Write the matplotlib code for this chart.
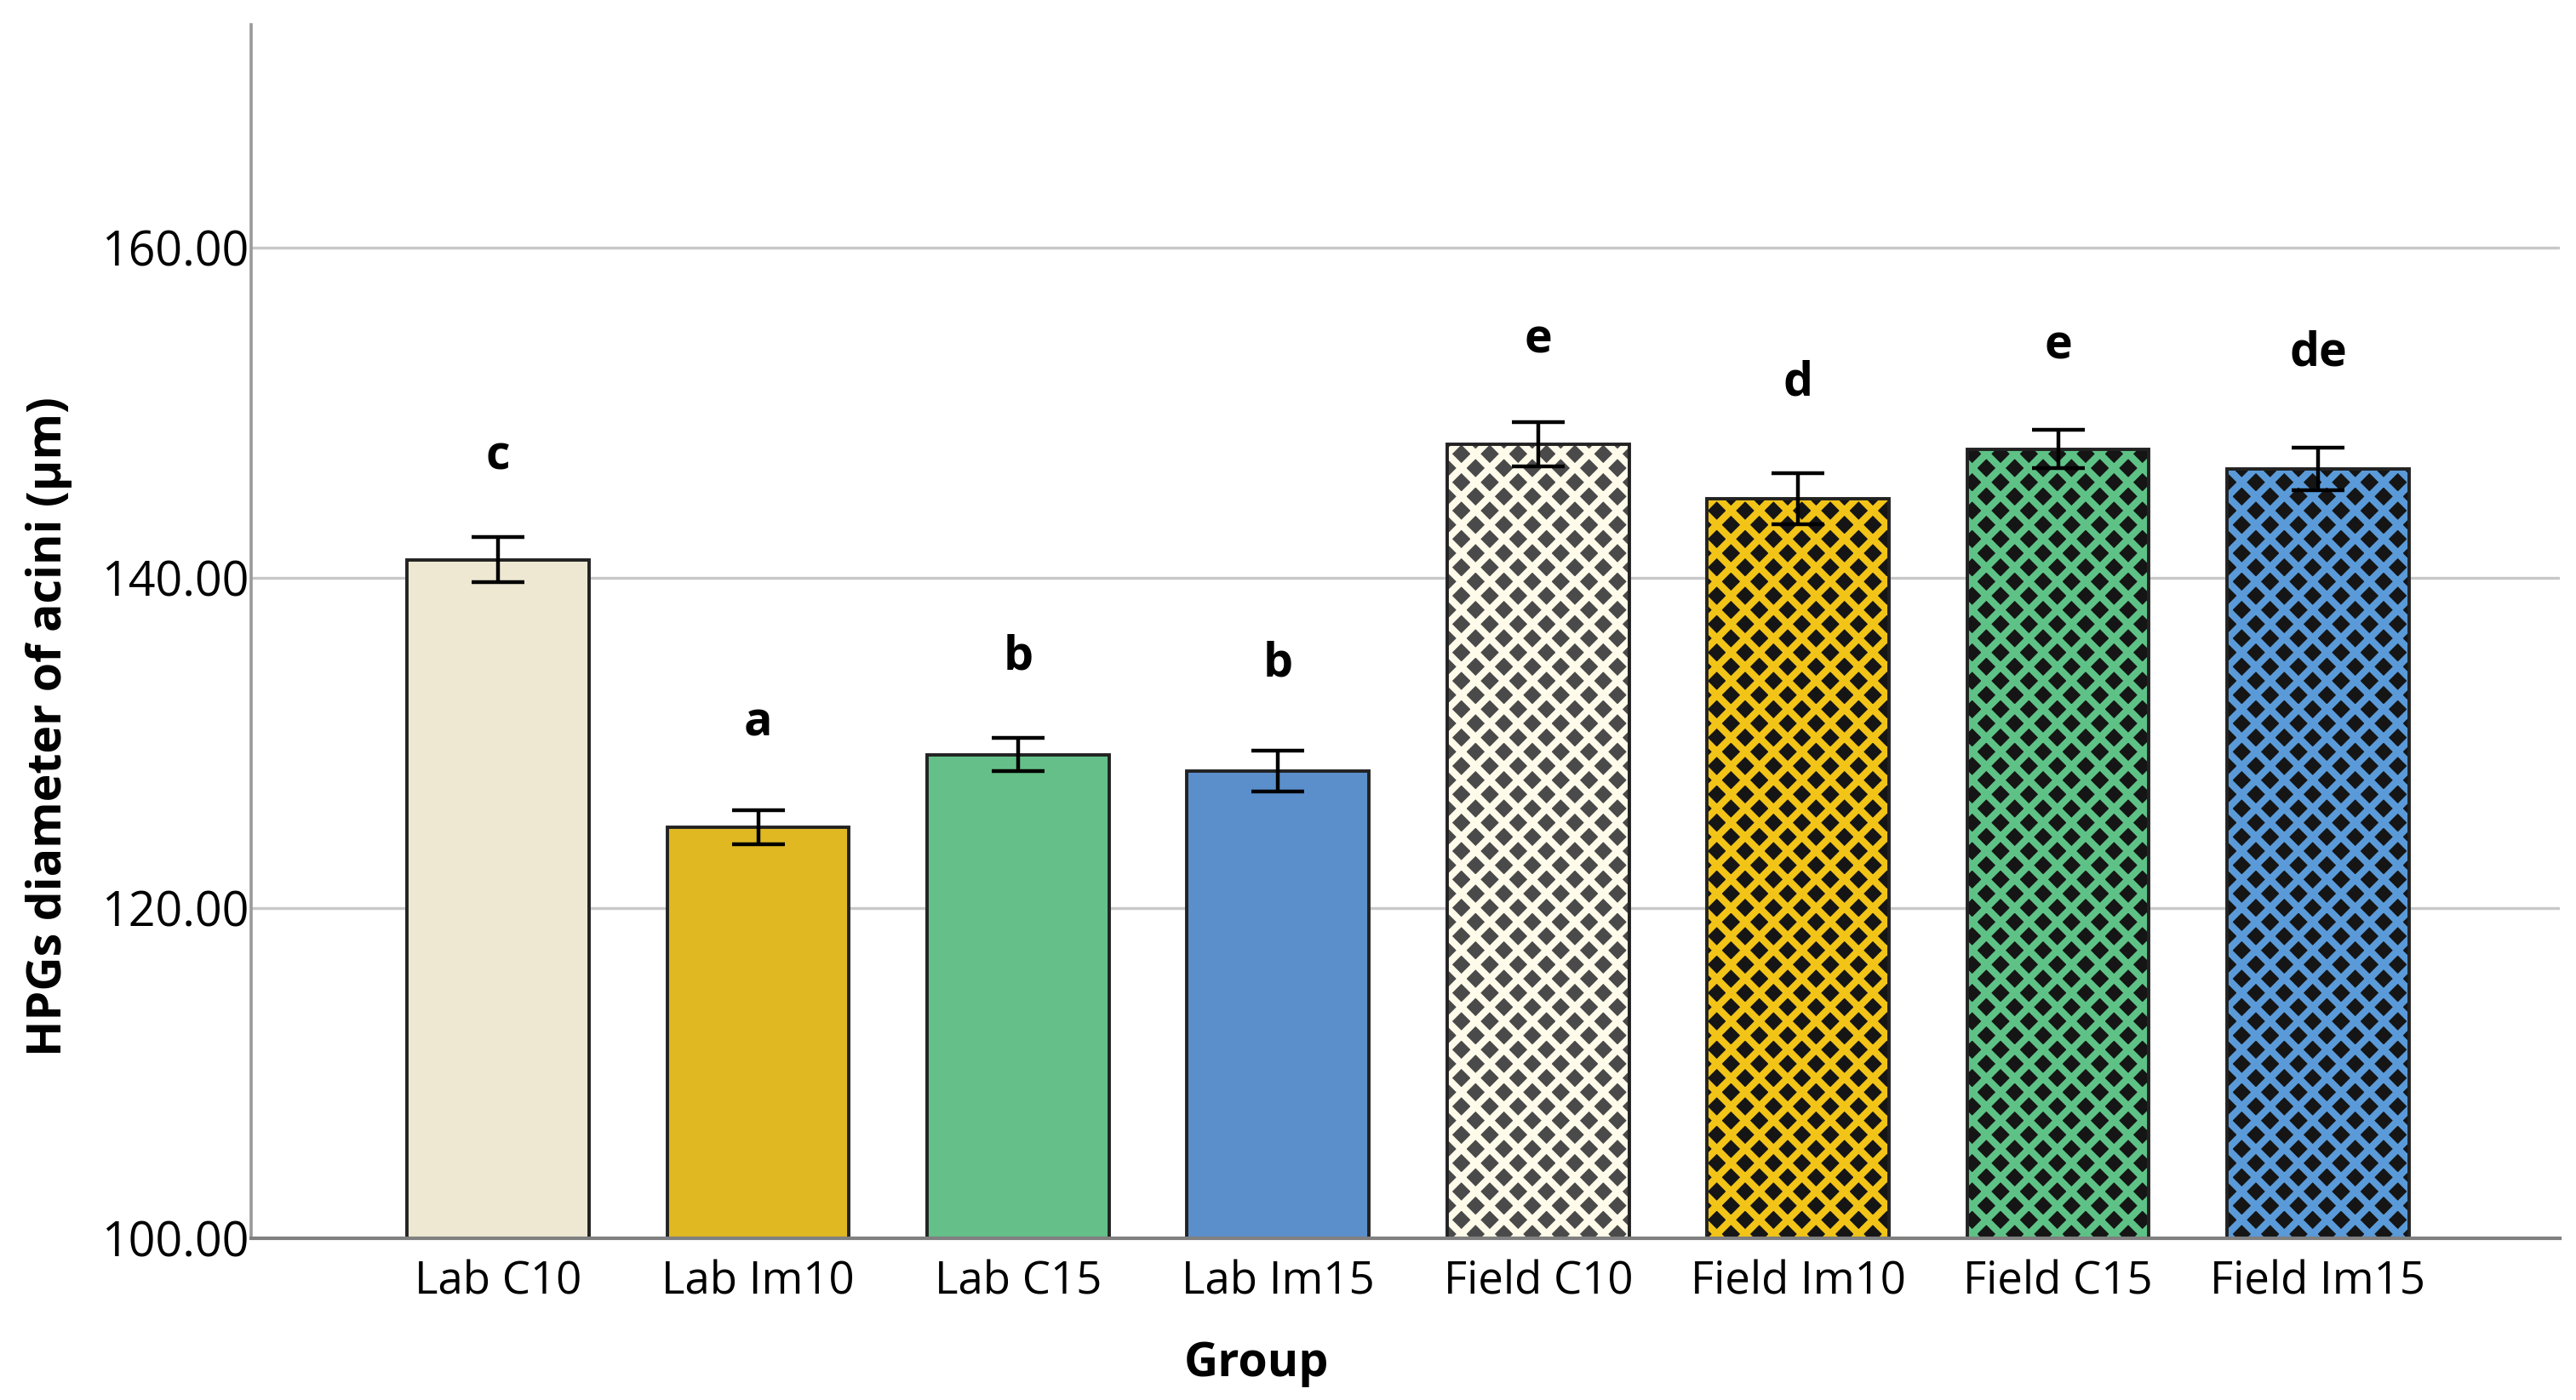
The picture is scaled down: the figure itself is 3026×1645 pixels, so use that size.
import matplotlib
matplotlib.use("Agg")
import matplotlib.pyplot as plt
import numpy as np
from matplotlib.ticker import FormatStrFormatter

groups = ["Lab C10", "Lab Im10", "Lab C15", "Lab Im15",
          "Field C10", "Field Im10", "Field C15", "Field Im15"]
means = [141.1, 124.9, 129.3, 128.3, 148.1, 144.8, 147.8, 146.6]
errors = [1.35, 1.05, 1.0, 1.25, 1.35, 1.55, 1.15, 1.3]
letters = ["c", "a", "b", "b", "e", "d", "e", "de"]
letter_y = [147.3, 131.2, 135.2, 134.8, 154.4, 151.8, 154.0, 153.6]
yticks = [100, 120, 140, 160]

fill_colors = ["#EEE8D3", "#E0B822", "#64C088", "#5B8FCC",
               "#FFFBEA", "#F2C417", "#5EC286", "#5A9AD8"]
dark_colors = [None, None, None, None, "#4a4a4a", "#151515", "#151515", "#151515"]

plt.rcParams['font.family'] = ['Open Sans', 'DejaVu Sans']
plt.rcParams['hatch.linewidth'] = 3.0

W, H, DPI = 3026, 1645, 200
fig = plt.figure(figsize=(W / DPI, H / DPI), dpi=DPI)
ax = fig.add_axes([295 / W, 190 / H, (3007 - 295) / W, (1455 - 29) / H])

x = np.arange(len(groups))
bw = 0.70
for i in range(len(groups)):
    if dark_colors[i] is None:
        ax.bar(x[i], means[i], width=bw, color=fill_colors[i],
               edgecolor="#222222", linewidth=1.4, zorder=2)
    else:
        ax.bar(x[i], means[i], width=bw, color=dark_colors[i],
               edgecolor=fill_colors[i], linewidth=0, hatch="xx", zorder=2)
        ax.bar(x[i], means[i], width=bw, facecolor="none",
               edgecolor="#222222", linewidth=1.4, zorder=3)

ax.errorbar(x, means, yerr=errors, fmt="none", ecolor="black",
            elinewidth=1.6, capsize=11, capthick=1.6, zorder=4)

for i in range(len(groups)):
    ax.text(x[i], letter_y[i], letters[i], ha="center", va="center",
            fontsize=20, fontweight="bold", color="black")

ax.set_xlim(-0.95, 7.93)
ax.set_ylim(100, 173.5)
ax.set_yticks(yticks)
ax.yaxis.set_major_formatter(FormatStrFormatter("%.2f"))
ax.set_xticks(x)
ax.set_xticklabels(groups)
ax.tick_params(axis="y", length=0, pad=1, labelsize=20)
ax.tick_params(axis="x", length=0, pad=9, labelsize=19)

ax.set_axisbelow(True)
ax.yaxis.grid(True, color="#c8c8c8", linewidth=1.2)
for s in ["top", "right"]:
    ax.spines[s].set_visible(False)
ax.spines["left"].set_color("#9a9a9a")
ax.spines["left"].set_linewidth(1.3)
ax.spines["bottom"].set_color("#808080")
ax.spines["bottom"].set_linewidth(1.5)
ax.spines["bottom"].set_zorder(5)

fig.text(58 / W, 1 - 854 / H, "HPGs diameter of acini (µm)", rotation=90,
         ha="center", va="center", fontsize=20, fontweight="bold")
fig.text(1476 / W, 1 - 1602 / H, "Group", ha="center", va="center",
         fontsize=20, fontweight="bold")

fig.savefig("out.png", dpi=DPI)
